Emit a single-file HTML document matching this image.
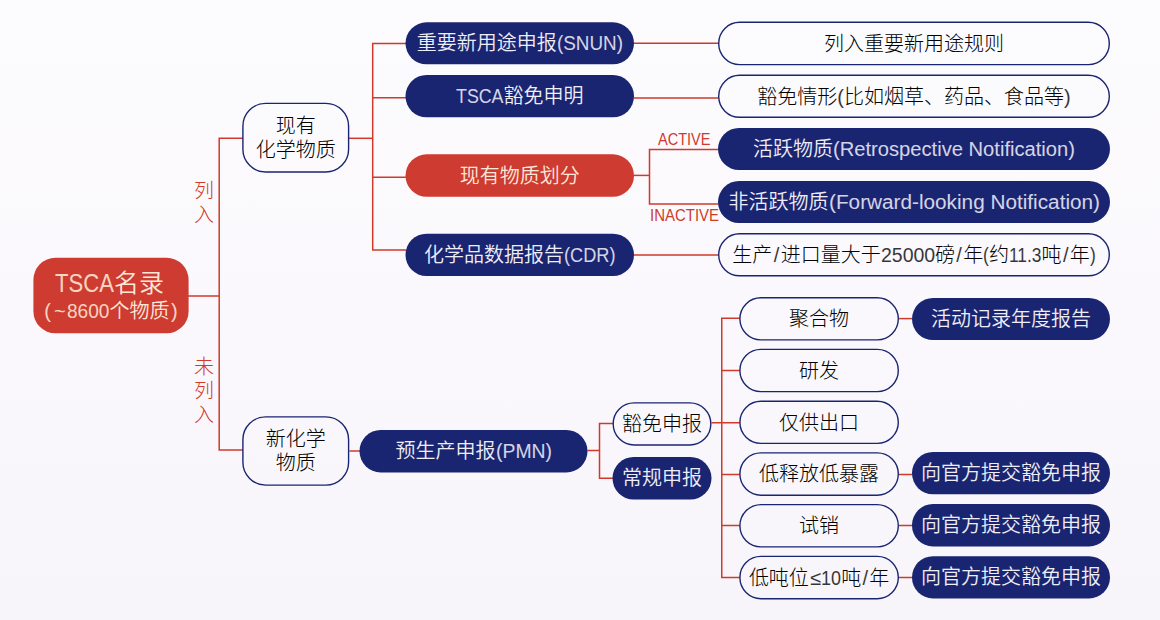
<!DOCTYPE html>
<html lang="zh-CN">
<head>
<meta charset="utf-8">
<title>TSCA名录</title>
<style>
html,body{margin:0;padding:0}
body{width:1160px;height:620px;overflow:hidden;background:linear-gradient(180deg,#fcfbfd 0%,#faf8fc 55%,#f7f5fa 100%);position:relative;
 font-family:"Liberation Sans","Noto Sans CJK SC",sans-serif;font-weight:300;font-size:20px;color:#000}
svg.g{position:absolute;left:0;top:0;width:1160px;height:620px}
svg.g path{fill:none;stroke:#cf3a2b;stroke-width:1.5}
svg.g .navy{fill:#1a2572}
svg.g .red{fill:#ce3b31}
svg.g .out{fill:none;stroke:#1a2572;stroke-width:1.4}
.n{position:absolute;display:flex;align-items:center;justify-content:center;
 text-align:center;white-space:nowrap;line-height:24px}
.n.out{padding-top:0.6px;box-sizing:border-box}
.n.navy{color:#efedf6;font-weight:350}
.n.red{color:#fce8d8;font-weight:350}
.n.root{color:#fce8d8;flex-direction:column;font-weight:350}
.root .t1{font-size:25px;line-height:30px;padding-right:3px}
.l{opacity:.78;text-align:left}
.navy .l,.red .l,.root .l{opacity:.88}
.root .t2{font-size:20px;line-height:26px}
.vlab{position:absolute;color:#cf3a2b;line-height:24px;text-align:center}
.hlab{position:absolute;color:#cf3a2b;font-size:16.5px;line-height:22px;text-align:left;white-space:nowrap}
.hlab .l{opacity:1}
</style>
</head>
<body>
<svg class="g" viewBox="0 0 1160 620">
<path d="M188 296H219.2"/>
<path d="M243 138.3H219.2V450H243"/>
<path d="M349 138.3H372.7"/>
<path d="M406 43.4H372.7V250H406"/>
<path d="M372.7 97.75H406"/>
<path d="M372.7 177.25H406"/>
<path d="M634 43.25H718.5"/>
<path d="M634 98H718.5"/>
<path d="M634 255H718.5"/>
<path d="M634 175.4H649.5"/>
<path d="M718.5 149.5H649.5V203.9H718.5"/>
<path d="M349.5 451H360"/>
<path d="M587.5 450.5H599.5"/>
<path d="M613 423.5H599.5V478.25H613"/>
<path d="M711.5 422.75H739.7"/>
<path d="M739.7 318.25H721.75V577.5H739.7"/>
<path d="M721.75 370.5H739.7"/>
<path d="M721.75 474.5H739.7"/>
<path d="M721.75 525.5H739.7"/>
<path d="M898.5 318.6H912.5"/>
<path d="M898.5 474.5H912.5"/>
<path d="M898.5 525.5H912.5"/>
<path d="M898.5 577.5H912.5"/>
<rect class="red" x="33.4" y="257.8" width="155.2" height="75.5" rx="22"/>
<rect class="out" x="242.9" y="103.4" width="105.7" height="68.6" rx="22.8"/>
<rect class="out" x="242.9" y="416.9" width="105.7" height="68.2" rx="22.8"/>
<rect class="navy" x="405.5" y="22.3" width="228.5" height="42" rx="21"/>
<rect class="navy" x="405.5" y="75" width="228.5" height="42.3" rx="21"/>
<rect class="red" x="405.5" y="154.3" width="228.5" height="42.5" rx="21.2"/>
<rect class="navy" x="405.5" y="233.7" width="228.5" height="42.3" rx="21"/>
<rect class="out" x="718.7" y="22.3" width="390.6" height="42.3" rx="21.1"/>
<rect class="out" x="718.7" y="75.3" width="390.6" height="42" rx="21"/>
<rect class="navy" x="718" y="128" width="392" height="42" rx="21"/>
<rect class="navy" x="718" y="181" width="392" height="42" rx="21"/>
<rect class="out" x="718.7" y="233.8" width="390.6" height="42" rx="21"/>
<rect class="navy" x="359.5" y="430" width="228" height="42.4" rx="21.2"/>
<rect class="out" x="613.2" y="402.9" width="97.6" height="42.1" rx="21"/>
<rect class="navy" x="612.5" y="457" width="99" height="42.5" rx="21.2"/>
<rect class="out" x="739.9" y="297.7" width="158.4" height="42.2" rx="21.1"/>
<rect class="out" x="739.9" y="349.4" width="158.4" height="42.2" rx="21.1"/>
<rect class="out" x="739.9" y="401.2" width="158.4" height="42.2" rx="21.1"/>
<rect class="out" x="739.9" y="452.9" width="158.4" height="42.3" rx="21.1"/>
<rect class="out" x="739.9" y="504.6" width="158.4" height="42.3" rx="21.1"/>
<rect class="out" x="739.9" y="556.4" width="158.4" height="42.3" rx="21.1"/>
<rect class="navy" x="912" y="297.9" width="198" height="42.2" rx="21.1"/>
<rect class="navy" x="912" y="452" width="198" height="42.3" rx="21"/>
<rect class="navy" x="912" y="504" width="198" height="42.4" rx="21"/>
<rect class="navy" x="912" y="556.2" width="198" height="42.2" rx="21"/>
</svg>
<div class="n root" style="left:33.4px;top:257.8px;width:155.2px;height:75.5px"><span class="t1"><span class="l" style="display:inline-block;width:59px;transform:scaleX(0.8847);transform-origin:0 50%;">TSCA</span>名录</span><span class="t2"><span class="l" style="margin-right:3px;">(</span><span class="l" style="margin-right:1.5px;">~</span><span class="l" style="display:inline-block;width:42.5px;transform:scaleX(0.9551);transform-origin:0 50%;">8600</span>个物质<span class="l" style="margin-left:1.5px;">)</span></span></div>
<div class="n out" style="left:242.2px;top:102.7px;width:107.1px;height:70px">现有<br>化学物质</div>
<div class="n out" style="left:242.2px;top:416.2px;width:107.1px;height:69.6px">新化学<br>物质</div>
<div class="n navy" style="left:405.5px;top:22.3px;width:228.5px;height:42px">重要新用途申报<span class="l" style="display:inline-block;width:66px;transform:scaleX(0.9429);transform-origin:0 50%;">(SNUN)</span></div>
<div class="n navy" style="left:405.5px;top:75px;width:228.5px;height:42.3px"><span class="l" style="display:inline-block;width:47.5px;transform:scaleX(0.8905);transform-origin:0 50%;">TSCA</span>豁免申明</div>
<div class="n red" style="left:405.5px;top:154.3px;width:228.5px;height:42.5px">现有物质划分</div>
<div class="n navy" style="left:405.5px;top:233.7px;width:228.5px;height:42.3px">化学品数据报告<span class="l" style="display:inline-block;width:51.5px;transform:scaleX(0.9090);transform-origin:0 50%;">(CDR)</span></div>
<div class="n out" style="left:718px;top:21.6px;width:392px;height:43.7px">列入重要新用途规则</div>
<div class="n out" style="left:718px;top:74.6px;width:392px;height:43.4px">豁免情形<span class="l">(</span>比如烟草、药品、食品等<span class="l">)</span></div>
<div class="n navy" style="left:718px;top:128px;width:392px;height:42px">活跃物质<span class="l" style="display:inline-block;width:242px;transform:scaleX(1.0079);transform-origin:0 50%;">(Retrospective Notification)</span></div>
<div class="n navy" style="left:718px;top:181px;width:392px;height:42px">非活跃物质<span class="l" style="display:inline-block;width:271px;transform:scaleX(1.0375);transform-origin:0 50%;">(Forward-looking Notification)</span></div>
<div class="n out" style="left:718px;top:233.1px;width:392px;height:43.4px">生产<span class="l" style="margin-left:1.4px;margin-right:1.4px;">/</span>进口量大于<span class="l" style="display:inline-block;width:54.2px;transform:scaleX(0.9744);transform-origin:0 50%;">25000</span>磅<span class="l" style="margin-left:1.4px;margin-right:1.4px;">/</span>年<span class="l" style="display:inline-block;width:5.8px;transform:scaleX(0.8693);transform-origin:0 50%;">(</span>约<span class="l" style="display:inline-block;width:32.5px;transform:scaleX(0.8678);transform-origin:0 50%;">11.3</span>吨<span class="l" style="margin-left:1.4px;margin-right:1.4px;">/</span>年<span class="l" style="display:inline-block;width:5.8px;transform:scaleX(0.8693);transform-origin:0 50%;">)</span></div>
<div class="n navy" style="left:359.5px;top:430px;width:228px;height:42.4px">预生产申报<span class="l" style="display:inline-block;width:56px;transform:scaleX(0.9694);transform-origin:0 50%;">(PMN)</span></div>
<div class="n out" style="left:612.5px;top:402.2px;width:99px;height:43.5px">豁免申报</div>
<div class="n navy" style="left:612.5px;top:457px;width:99px;height:42.5px">常规申报</div>
<div class="n out" style="left:739.2px;top:297px;width:159.8px;height:43.6px">聚合物</div>
<div class="n out" style="left:739.2px;top:348.7px;width:159.8px;height:43.6px">研发</div>
<div class="n out" style="left:739.2px;top:400.5px;width:159.8px;height:43.6px">仅供出口</div>
<div class="n out" style="left:739.2px;top:452.2px;width:159.8px;height:43.7px">低释放低暴露</div>
<div class="n out" style="left:739.2px;top:503.9px;width:159.8px;height:43.7px">试销</div>
<div class="n out" style="left:739.2px;top:555.7px;width:159.8px;height:43.7px">低吨位<span class="l" style="margin-left:1px;margin-right:0.5px;">≤</span><span class="l" style="display:inline-block;width:20px;transform:scaleX(0.8989);transform-origin:0 50%;">10</span>吨<span class="l" style="margin-left:1.2px;margin-right:1.2px;">/</span>年</div>
<div class="n navy" style="left:912px;top:297.9px;width:198px;height:42.2px">活动记录年度报告</div>
<div class="n navy" style="left:912px;top:452px;width:198px;height:42.3px">向官方提交豁免申报</div>
<div class="n navy" style="left:912px;top:504px;width:198px;height:42.4px">向官方提交豁免申报</div>
<div class="n navy" style="left:912px;top:556.2px;width:198px;height:42.2px">向官方提交豁免申报</div>
<div class="vlab" style="left:194px;top:178.5px;width:20px;height:48px">列<br>入</div>
<div class="vlab" style="left:194px;top:355.4px;width:20px;height:72px">未<br>列<br>入</div>
<div class="hlab" style="left:658.3px;top:127.8px;width:54px;height:22px"><span class="l" style="display:inline-block;width:52.5px;transform:scaleX(0.8807);transform-origin:0 50%;">ACTIVE</span></div>
<div class="hlab" style="left:649.8px;top:204px;width:70px;height:22px"><span class="l" style="display:inline-block;width:69px;transform:scaleX(0.9066);transform-origin:0 50%;">INACTIVE</span></div>
</body>
</html>
